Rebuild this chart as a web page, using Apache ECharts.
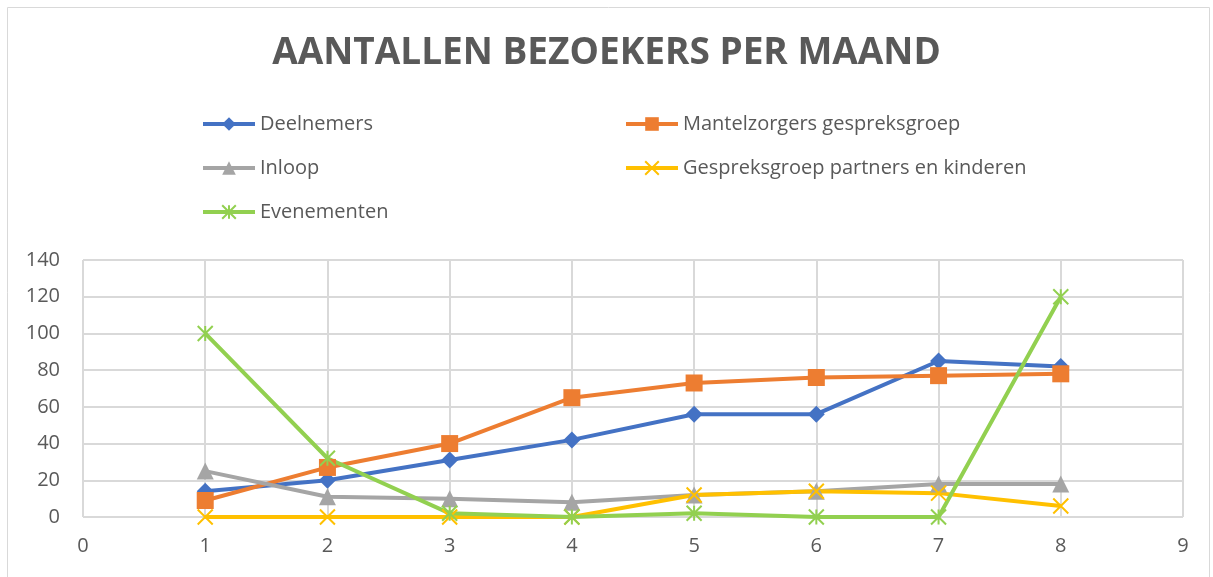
<!DOCTYPE html>
<html>
<head>
<meta charset="utf-8">
<script src="https://cdn.jsdelivr.net/npm/echarts@6/dist/echarts.min.js"></script>
<style>
  html, body { margin: 0; padding: 0; background: #fff; }
  #chart { width: 1213px; height: 577px; }
</style>
</head>
<body>
<div id="chart"></div>
<script>
// data
var months = [1, 2, 3, 4, 5, 6, 7, 8];
var deelnemers = [14, 20, 31, 42, 56, 56, 85, 82];
var mantelzorgers = [9, 27, 40, 65, 73, 76, 77, 78];
var inloop = [25, 11, 10, 8, 12, 14, 18, 18];
var partnersKinderen = [0, 0, 0, 0, 12, 14, 13, 6];
var evenementen = [100, 32, 2, 0, 2, 0, 0, 120];

var seriesNames = ['Deelnemers', 'Mantelzorgers gespreksgroep', 'Inloop',
    'Gespreksgroep partners en kinderen', 'Evenementen'];

var pairs = function (vals) {
    return months.map(function (m, i) { return [m, vals[i]]; });
};

var txt = '#595959';
var crossPath = 'path://M0,0L10,10M10,0L0,10';
var starPath = 'path://M0,0L10,10M10,0L0,10M5,0L5,10';

var mkSeries = function (name, vals, color, symbol, size, stroked) {
    return {
        name: name,
        type: 'line',
        data: pairs(vals),
        symbol: symbol,
        symbolSize: size,
        lineStyle: { color: color, width: 4 },
        itemStyle: stroked
            ? { color: color, borderColor: color, borderWidth: 2 }
            : { color: color, borderWidth: 0 },
        z: 2
    };
};

var legendBase = function (left, names) {
    return {
        orient: 'vertical',
        left: left, top: 109,
        itemWidth: 52, itemHeight: 17, itemGap: 24,
        lineStyle: { width: 4 },
        textStyle: { color: txt, fontSize: 20, fontFamily: 'Open Sans' },
        data: names
    };
};

var chart = echarts.init(document.getElementById('chart'));
chart.setOption({
    animation: false,
    title: {
        text: 'AANTALLEN BEZOEKERS PER MAAND',
        left: 'center',
        top: 30,
        textStyle: { color: txt, fontSize: 37, fontWeight: 'bold', fontFamily: 'Open Sans' }
    },
    legend: [
        legendBase(196, [seriesNames[0], seriesNames[2], seriesNames[4]]),
        legendBase(619, [seriesNames[1], seriesNames[3]])
    ],
    grid: { left: 83, right: 30, top: 260, bottom: 60 },
    xAxis: {
        type: 'value',
        min: 0, max: 9, interval: 1,
        axisLine: { show: false },
        axisTick: { show: false },
        splitLine: { show: true, lineStyle: { color: '#d9d9d9', width: 2 } },
        axisLabel: { color: txt, fontSize: 20, margin: 19, fontFamily: 'Open Sans' }
    },
    yAxis: {
        type: 'value',
        min: 0, max: 140, interval: 20,
        axisLine: { show: false },
        axisTick: { show: false },
        splitLine: { lineStyle: { color: '#d9d9d9', width: 2 } },
        axisLabel: { color: txt, fontSize: 20, margin: 23, fontFamily: 'Open Sans' }
    },
    graphic: [{
        type: 'rect',
        shape: { x: 7.5, y: 7.5, width: 1202, height: 580 },
        style: { fill: 'none', stroke: '#d9d9d9', lineWidth: 1 },
        silent: true
    }],
    series: [
        mkSeries(seriesNames[0], deelnemers, '#4472C4', 'diamond', 17, false),
        mkSeries(seriesNames[1], mantelzorgers, '#ED7D31', 'rect', 17, false),
        mkSeries(seriesNames[2], inloop, '#A5A5A5', 'triangle', 17, false),
        mkSeries(seriesNames[3], partnersKinderen, '#FFC000', crossPath, 15, true),
        mkSeries(seriesNames[4], evenementen, '#92D050', starPath, 15, true)
    ]
});
</script>
</body>
</html>
